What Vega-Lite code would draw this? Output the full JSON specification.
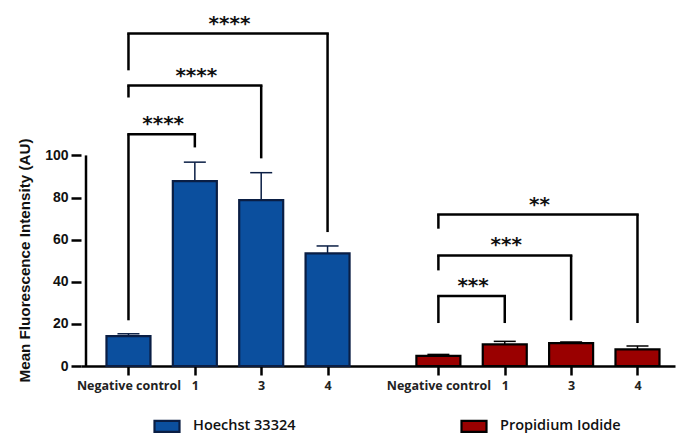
{
  "$schema": "https://vega.github.io/schema/vega-lite/v6.json",
  "autosize": "none",
  "width": 594,
  "height": 358,
  "padding": {"left": 81, "top": 8, "right": 2, "bottom": 70},
  "config": {"view": {"stroke": null}, "font": "Open Sans"},
  "datasets": {
    "bars": [
      {"stain": "Hoechst 33324", "cond": "Negative control", "pos": 0, "mean": 14.2, "err": 15.3},
      {"stain": "Hoechst 33324", "cond": "1", "pos": 1, "mean": 87.8, "err": 96.8},
      {"stain": "Hoechst 33324", "cond": "3", "pos": 2, "mean": 78.8, "err": 91.8},
      {"stain": "Hoechst 33324", "cond": "4", "pos": 3, "mean": 53.5, "err": 57.0},
      {"stain": "Propidium Iodide", "cond": "Negative control", "pos": 4.67, "mean": 4.8, "err": 5.5},
      {"stain": "Propidium Iodide", "cond": "1", "pos": 5.67, "mean": 10.3, "err": 11.7},
      {"stain": "Propidium Iodide", "cond": "3", "pos": 6.67, "mean": 10.9, "err": 11.4},
      {"stain": "Propidium Iodide", "cond": "4", "pos": 7.67, "mean": 7.9, "err": 9.5}
    ],
    "brackets": [
      {"x1": 0, "x2": 1, "xm": 0.5, "ytop": 110, "yl": 21.7, "yr": 103.8, "sig": "****", "ylab": 117.5},
      {"x1": 0, "x2": 2, "xm": 1, "ytop": 133.2, "yl": 127.5, "yr": 98.6, "sig": "****", "ylab": 140.3},
      {"x1": 0, "x2": 3, "xm": 1.5, "ytop": 157.9, "yl": 140.4, "yr": 63.6, "sig": "****", "ylab": 165},
      {"x1": 4.67, "x2": 5.67, "xm": 5.17, "ytop": 33.2, "yl": 20.4, "yr": 20.4, "sig": "***", "ylab": 40.3},
      {"x1": 4.67, "x2": 6.67, "xm": 5.67, "ytop": 52.5, "yl": 45.4, "yr": 21.7, "sig": "***", "ylab": 59.7},
      {"x1": 4.67, "x2": 7.67, "xm": 6.17, "ytop": 72, "yl": 65.2, "yr": 20.4, "sig": "**", "ylab": 79}
    ],
    "axisline": [{"x": -0.64, "y": 0, "y2": 100}]
  },
  "layer": [
    {
      "data": {"name": "bars"},
      "mark": {"type": "rule", "strokeWidth": 1.5},
      "encoding": {
        "x": {"field": "pos", "type": "quantitative",
          "scale": {"domain": [-0.64, 8.16], "nice": false, "zero": false},
          "axis": {
            "values": [0, 1, 2, 3, 4.67, 5.67, 6.67, 7.67],
            "labelExpr": "(datum.value == 0 || datum.value == 4.67) ? 'Negative control' : (datum.value == 1 || datum.value == 5.67) ? '1' : (datum.value == 2 || datum.value == 6.67) ? '3' : '4'",
            "title": null, "grid": false,
            "domainColor": "black", "domainWidth": 2.5,
            "tickColor": "black", "tickWidth": 2.5, "tickSize": 9,
            "labelFont": "Open Sans", "labelFontWeight": "bold", "labelFontSize": 12.5,
            "labelColor": "#222", "labelPadding": 4, "labelFlush": false, "labelOverlap": false
          }},
        "y": {"field": "mean", "type": "quantitative",
          "scale": {"domain": [0, 170], "nice": false},
          "axis": {
            "values": [0, 20, 40, 60, 80, 100],
            "title": "Mean Fluorescence Intensity (AU)",
            "titleFont": "Liberation Sans", "titleFontWeight": "bold", "titleFontSize": 15.2, "titleColor": "#111",
            "titleX": -49, "titleY": 252, "titleAngle": -90, "titleBaseline": "bottom", "titleAlign": "center",
            "domain": false, "grid": false,
            "tickColor": "black", "tickWidth": 2.5, "tickSize": 10,
            "labelFont": "Liberation Sans", "labelFontWeight": "bold", "labelFontSize": 14, "labelColor": "#111",
            "labelPadding": 3
          }},
        "y2": {"field": "err"},
        "stroke": {"field": "stain", "type": "nominal",
          "scale": {"domain": ["Hoechst 33324", "Propidium Iodide"], "range": ["#0a1e44", "#000000"]}}
      }
    },
    {
      "data": {"name": "bars"},
      "mark": {"type": "rule", "strokeWidth": 1.5, "xOffset": -11, "x2Offset": 11},
      "encoding": {
        "x": {"field": "pos", "type": "quantitative"},
        "x2": {"field": "pos"},
        "y": {"field": "err", "type": "quantitative"},
        "stroke": {"field": "stain", "type": "nominal"}
      }
    },
    {
      "data": {"name": "bars"},
      "mark": {"type": "bar", "size": 44, "strokeWidth": 2.2},
      "encoding": {
        "x": {"field": "pos", "type": "quantitative"},
        "y": {"field": "mean", "type": "quantitative"},
        "fill": {"field": "stain", "type": "nominal",
          "scale": {"domain": ["Hoechst 33324", "Propidium Iodide"], "range": ["#0b4f9e", "#9a0000"]},
          "legend": {
            "title": null, "orient": "none", "direction": "horizontal", "columns": 2,
            "legendX": 74.5, "legendY": 406.5, "columnPadding": 160,
            "symbolType": "M-1.25,-0.55H1.25V0.55H-1.25Z", "symbolSize": 400, "symbolStrokeWidth": 2.2,
            "labelFont": "Open Sans", "labelFontSize": 14.5, "labelFontWeight": 600, "labelColor": "#111", "labelOffset": 14.5
          }},
        "stroke": {"field": "stain", "type": "nominal",
          "legend": {
            "title": null, "orient": "none", "direction": "horizontal", "columns": 2,
            "legendX": 74.5, "legendY": 406.5, "columnPadding": 160,
            "symbolType": "M-1.25,-0.55H1.25V0.55H-1.25Z", "symbolSize": 400, "symbolStrokeWidth": 2.2,
            "labelFont": "Open Sans", "labelFontSize": 14.5, "labelFontWeight": 600, "labelColor": "#111", "labelOffset": 14.5
          }}
      }
    },
    {
      "data": {"name": "axisline"},
      "mark": {"type": "rule", "strokeWidth": 2.5, "color": "black"},
      "encoding": {
        "x": {"field": "x", "type": "quantitative"},
        "y": {"field": "y", "type": "quantitative"},
        "y2": {"field": "y2"}
      }
    },
    {
      "data": {"name": "brackets"},
      "mark": {"type": "rule", "strokeWidth": 2.5, "color": "black", "strokeCap": "square"},
      "encoding": {
        "x": {"field": "x1", "type": "quantitative"},
        "x2": {"field": "x2"},
        "y": {"field": "ytop", "type": "quantitative"}
      }
    },
    {
      "data": {"name": "brackets"},
      "mark": {"type": "rule", "strokeWidth": 2.5, "color": "black"},
      "encoding": {
        "x": {"field": "x1", "type": "quantitative"},
        "y": {"field": "ytop", "type": "quantitative"},
        "y2": {"field": "yl"}
      }
    },
    {
      "data": {"name": "brackets"},
      "mark": {"type": "rule", "strokeWidth": 2.5, "color": "black"},
      "encoding": {
        "x": {"field": "x2", "type": "quantitative"},
        "y": {"field": "ytop", "type": "quantitative"},
        "y2": {"field": "yr"}
      }
    },
    {
      "data": {"name": "brackets"},
      "mark": {"type": "text", "font": "DejaVu Sans", "fontWeight": "bold", "fontSize": 20, "baseline": "alphabetic", "dy": 11, "dx": 1.5, "color": "#111", "letterSpacing": 3},
      "encoding": {
        "x": {"field": "xm", "type": "quantitative"},
        "y": {"field": "ylab", "type": "quantitative"},
        "text": {"field": "sig"}
      }
    }
  ]
}
